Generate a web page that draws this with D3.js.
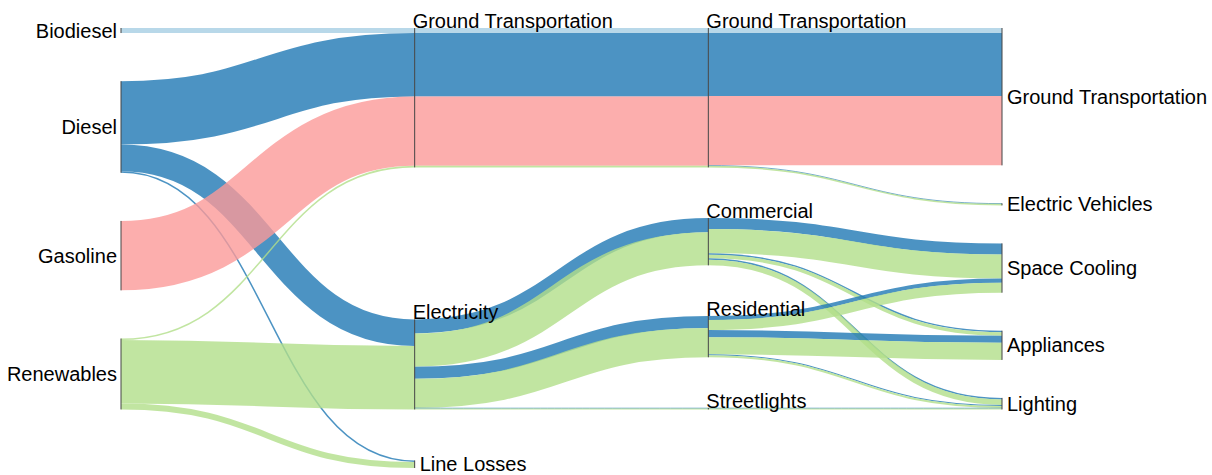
<!DOCTYPE html>
<html>
<head>
<meta charset="utf-8">
<script src="https://cdn.jsdelivr.net/npm/d3@7"></script>
<style>
  body { margin: 0; background: #fff; }
  svg { display: block; font-family: "Liberation Sans", Arial, Helvetica, sans-serif; }
  .link { fill: none; stroke-opacity: 0.8; }
  .node line { stroke: #444; stroke-width: 1; }
  .node text { font-size: 20px; fill: #000; }
</style>
</head>
<body>
<div id="chart"></div>
<script>
// fuel types carried through every flow (link colour)
var fuelTypes = ["Biodiesel", "Diesel", "Gasoline", "Renewables"];

// nodes, in their top-to-bottom order inside each column
var nodeIds = ["biodiesel", "diesel", "gasoline", "renewables",
               "gt1", "elec", "losses",
               "gt2", "comm", "res", "street",
               "gt3", "ev", "cooling", "appliances", "lighting"];
var nodeLabels = ["Biodiesel", "Diesel", "Gasoline", "Renewables",
                  "Ground Transportation", "Electricity", "Line Losses",
                  "Ground Transportation", "Commercial", "Residential", "Streetlights",
                  "Ground Transportation", "Electric Vehicles", "Space Cooling", "Appliances", "Lighting"];
// nodes kept in a separate band below the main flows
var lossNodes = ["losses"];

// source, target, fuel, value
var flows = [
  ["biodiesel", "gt1", "Biodiesel", 5],
  ["diesel", "gt1", "Diesel", 63],
  ["diesel", "elec", "Diesel", 26.5],
  ["diesel", "losses", "Diesel", 1.5],
  ["gasoline", "gt1", "Gasoline", 69],
  ["renewables", "gt1", "Renewables", 1.5],
  ["renewables", "elec", "Renewables", 63],
  ["renewables", "losses", "Renewables", 6],
  ["gt1", "gt2", "Biodiesel", 5],
  ["gt1", "gt2", "Diesel", 63],
  ["gt1", "gt2", "Gasoline", 69],
  ["gt1", "gt2", "Renewables", 1.5],
  ["elec", "comm", "Diesel", 14],
  ["elec", "comm", "Renewables", 33],
  ["elec", "res", "Diesel", 12],
  ["elec", "res", "Renewables", 29],
  ["elec", "street", "Diesel", 0.5],
  ["elec", "street", "Renewables", 1],
  ["gt2", "gt3", "Biodiesel", 5],
  ["gt2", "gt3", "Diesel", 62.5],
  ["gt2", "gt3", "Gasoline", 69],
  ["gt2", "ev", "Diesel", 0.5],
  ["gt2", "ev", "Renewables", 1.5],
  ["comm", "cooling", "Diesel", 11],
  ["comm", "cooling", "Renewables", 24],
  ["comm", "appliances", "Diesel", 1.5],
  ["comm", "appliances", "Renewables", 3.5],
  ["comm", "lighting", "Diesel", 1.5],
  ["comm", "lighting", "Renewables", 5.5],
  ["res", "cooling", "Diesel", 4],
  ["res", "cooling", "Renewables", 10],
  ["res", "appliances", "Diesel", 7],
  ["res", "appliances", "Renewables", 17],
  ["res", "lighting", "Diesel", 1],
  ["res", "lighting", "Renewables", 2],
  ["street", "lighting", "Diesel", 0.5],
  ["street", "lighting", "Renewables", 1]
];

var width = 1212, height = 475;
var margin = {top: 28, right: 210, bottom: 7, left: 121};
var innerHeight = height - margin.top - margin.bottom;
var nodePadding = 38, bandGap = 51;

var color = d3.scaleOrdinal()
    .domain(fuelTypes)
    .range([d3.schemePaired[0], d3.schemePaired[1], d3.schemePaired[4], d3.schemePaired[2]]);

// build graph
var nodes = nodeIds.map(function(id, i) {
    return {id: id, name: nodeLabels[i], index: i, loss: lossNodes.indexOf(id) >= 0,
            sourceLinks: [], targetLinks: []};
});
var byId = new Map(nodes.map(function(n) { return [n.id, n]; }));
var links = flows.map(function(f) {
    var l = {source: byId.get(f[0]), target: byId.get(f[1]), fuel: f[2], value: f[3]};
    l.source.sourceLinks.push(l);
    l.target.targetLinks.push(l);
    return l;
});

nodes.forEach(function(n) {
    n.value = Math.max(d3.sum(n.sourceLinks, function(l) { return l.value; }),
                       d3.sum(n.targetLinks, function(l) { return l.value; }));
});

// depth = longest path from a source node
var changed = true;
nodes.forEach(function(n) { n.depth = 0; });
while (changed) {
    changed = false;
    links.forEach(function(l) {
        if (l.target.depth < l.source.depth + 1) { l.target.depth = l.source.depth + 1; changed = true; }
    });
}
var maxDepth = d3.max(nodes, function(n) { return n.depth; });

var x = d3.scaleLinear().domain([0, maxDepth]).range([margin.left, width - margin.right]);

var columns = d3.range(maxDepth + 1).map(function(d) {
    return nodes.filter(function(n) { return n.depth === d; });
});

// vertical scale: main band plus a loss band below it
var lossMax = d3.max(columns, function(c) {
    return d3.sum(c.filter(function(n) { return n.loss; }), function(n) { return n.value; });
});
var ky = d3.min(columns, function(c) {
    var main = c.filter(function(n) { return !n.loss; });
    return (innerHeight - bandGap - (main.length - 1) * nodePadding) /
           (d3.sum(main, function(n) { return n.value; }) + lossMax);
});
var thickness = d3.scaleLinear().domain([0, 1]).range([0, ky]);

var mainHeight = d3.max(columns, function(c) {
    var main = c.filter(function(n) { return !n.loss; });
    return thickness(d3.sum(main, function(n) { return n.value; })) + (main.length - 1) * nodePadding;
});

columns.forEach(function(c) {
    var main = c.filter(function(n) { return !n.loss; });
    var loss = c.filter(function(n) { return n.loss; });
    var used = thickness(d3.sum(main, function(n) { return n.value; }));
    var gap = main.length > 1 ? (mainHeight - used) / (main.length - 1) : 0;
    var y = margin.top;
    main.forEach(function(n) {
        n.x = x(n.depth);
        n.y0 = y;
        n.y1 = y + thickness(n.value);
        y = n.y1 + gap;
    });
    y = margin.top + mainHeight + bandGap;
    loss.forEach(function(n) {
        n.x = x(n.depth);
        n.y0 = y;
        n.y1 = y + thickness(n.value);
        y = n.y1 + nodePadding;
    });
});

// stack links at each node: by position of other end, then fuel order
nodes.forEach(function(n) {
    var y = n.y0;
    n.sourceLinks.sort(function(a, b) {
        return (a.target.y0 - b.target.y0) || (fuelTypes.indexOf(a.fuel) - fuelTypes.indexOf(b.fuel));
    }).forEach(function(l) {
        l.width = thickness(l.value);
        l.y0 = y + l.width / 2;
        y += l.width;
    });
    y = n.y0;
    n.targetLinks.sort(function(a, b) {
        return (a.source.y0 - b.source.y0) || (fuelTypes.indexOf(a.fuel) - fuelTypes.indexOf(b.fuel));
    }).forEach(function(l) {
        l.y1 = y + thickness(l.value) / 2;
        y += thickness(l.value);
    });
});

var svg = d3.select("#chart").append("svg")
    .attr("width", width)
    .attr("height", height);

var linkPath = d3.linkHorizontal()
    .source(function(d) { return [d.source.x, d.y0]; })
    .target(function(d) { return [d.target.x, d.y1]; });

svg.append("g").selectAll(".link")
    .data(links)
    .enter().append("path")
    .attr("class", "link")
    .attr("d", linkPath)
    .attr("stroke", function(d) { return color(d.fuel); })
    .attr("stroke-width", function(d) { return Math.max(0.8, d.width); });

var node = svg.append("g").selectAll(".node")
    .data(nodes)
    .enter().append("g")
    .attr("class", "node");

node.append("line")
    .attr("x1", function(d) { return d.x; })
    .attr("x2", function(d) { return d.x; })
    .attr("y1", function(d) { return d.y0; })
    .attr("y2", function(d) { return d.y1; });

// sources labelled left, sinks right, the rest above the node
node.append("text")
    .attr("x", function(d) {
        if (!d.targetLinks.length) return d.x - 4;
        if (!d.sourceLinks.length) return d.x + 5;
        return d.x - 2;
    })
    .attr("y", function(d) {
        if (!d.targetLinks.length || !d.sourceLinks.length) return (d.y0 + d.y1) / 2;
        return d.y0;
    })
    .attr("dy", function(d) {
        return (!d.targetLinks.length || !d.sourceLinks.length) ? "0.35em" : 0;
    })
    .style("text-anchor", function(d) { return d.targetLinks.length ? "start" : "end"; })
    .text(function(d) { return d.name; });
</script>
</body>
</html>
